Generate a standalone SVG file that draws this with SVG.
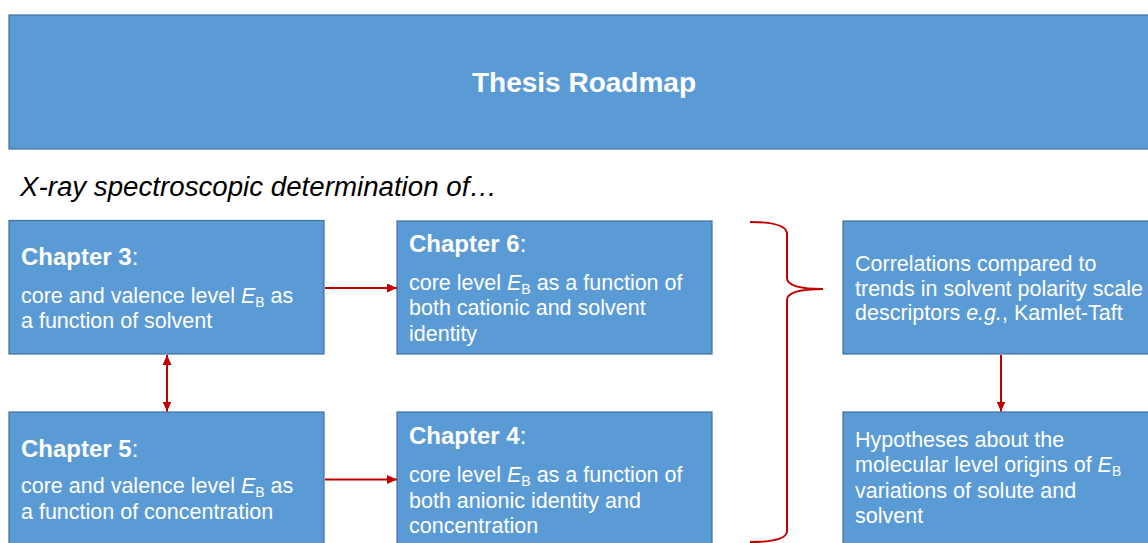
<svg xmlns="http://www.w3.org/2000/svg" width="1148" height="543" viewBox="0 0 1148 543">
<style>
.box{fill:#5B9BD5;stroke:#41719C;stroke-width:1.2}
.t{font-family:"Liberation Sans",Arial,sans-serif;fill:#fff;font-size:21.5px}
.h{font-size:24px}
.b{font-weight:bold}
.i{font-style:italic}
.s{font-size:14px}
.con{stroke:#C00000;stroke-width:2;fill:none}
</style>
<defs>
<marker id="ah" markerUnits="userSpaceOnUse" markerWidth="10" markerHeight="9" refX="10" refY="4.5" orient="auto-start-reverse" viewBox="0 0 10 9">
<path d="M0,0 L10,4.5 L0,9 z" fill="#C00000"/>
</marker>
</defs>
<g id="title">
<rect class="box" x="9" y="15" width="1150" height="134"/>
<text class="t b" x="584" y="92" text-anchor="middle" style="font-size:28px">Thesis Roadmap</text>
</g>
<g id="subtitle">
<text x="20" y="196" style="font-family:'Liberation Sans',Arial,sans-serif;font-size:27.7px;font-style:italic;fill:#000">X-ray spectroscopic determination of…</text>
</g>
<g id="ch3">
<rect class="box" x="9" y="220.5" width="315" height="133.5"/>
<text class="t" x="21" y="265"><tspan class="b h">Chapter 3</tspan><tspan class="h">:</tspan></text>
<text class="t" x="21" y="303">core and valence level <tspan class="i">E</tspan><tspan class="s" dy="4">B</tspan><tspan dy="-4"> as</tspan></text>
<text class="t" x="21" y="328">a function of solvent</text>
</g>
<g id="ch6">
<rect class="box" x="397" y="221" width="315" height="133"/>
<text class="t" x="409" y="252"><tspan class="b h">Chapter 6</tspan><tspan class="h">:</tspan></text>
<text class="t" x="409" y="289.5">core level <tspan class="i">E</tspan><tspan class="s" dy="4">B</tspan><tspan dy="-4"> as a function of</tspan></text>
<text class="t" x="409" y="315">both cationic and solvent</text>
<text class="t" x="409" y="340.5">identity</text>
</g>
<g id="ch5">
<rect class="box" x="9" y="412" width="315" height="140"/>
<text class="t" x="21" y="457"><tspan class="b h">Chapter 5</tspan><tspan class="h">:</tspan></text>
<text class="t" x="21" y="493">core and valence level <tspan class="i">E</tspan><tspan class="s" dy="4">B</tspan><tspan dy="-4"> as</tspan></text>
<text class="t" x="21" y="518.5">a function of concentration</text>
</g>
<g id="ch4">
<rect class="box" x="397" y="412" width="315" height="140"/>
<text class="t" x="409" y="444"><tspan class="b h">Chapter 4</tspan><tspan class="h">:</tspan></text>
<text class="t" x="409" y="482">core level <tspan class="i">E</tspan><tspan class="s" dy="4">B</tspan><tspan dy="-4"> as a function of</tspan></text>
<text class="t" x="409" y="507.5">both anionic identity and</text>
<text class="t" x="409" y="533">concentration</text>
</g>
<g id="correlations">
<rect class="box" x="843" y="221" width="320" height="133"/>
<text class="t" x="855" y="271">Correlations compared to</text>
<text class="t" x="855" y="295.5">trends in solvent polarity scale</text>
<text class="t" x="855" y="320">descriptors <tspan class="i">e.g.</tspan>, Kamlet-Taft</text>
</g>
<g id="hypotheses">
<rect class="box" x="843" y="412" width="320" height="140"/>
<text class="t" x="855" y="447">Hypotheses about the</text>
<text class="t" x="855" y="472">molecular level origins of <tspan class="i">E</tspan><tspan class="s" dy="4">B</tspan></text>
<text class="t" x="855" y="497.5">variations of solute and</text>
<text class="t" x="855" y="523">solvent</text>
</g>
<g id="connectors">
<line class="con" x1="325" y1="288" x2="397" y2="288" marker-end="url(#ah)"/>
<line class="con" x1="325" y1="479.5" x2="397" y2="479.5" marker-end="url(#ah)"/>
<line class="con" x1="167" y1="355" x2="167" y2="411.5" marker-start="url(#ah)" marker-end="url(#ah)"/>
<line class="con" x1="1001" y1="355" x2="1001" y2="411.5" marker-end="url(#ah)"/>
<path class="con" d="M750,222 Q787,222 787,234 L787,278 Q787,289 823,289 Q787,289 787,300 L787,531 Q787,542 750,542"/>
</g>
</svg>
